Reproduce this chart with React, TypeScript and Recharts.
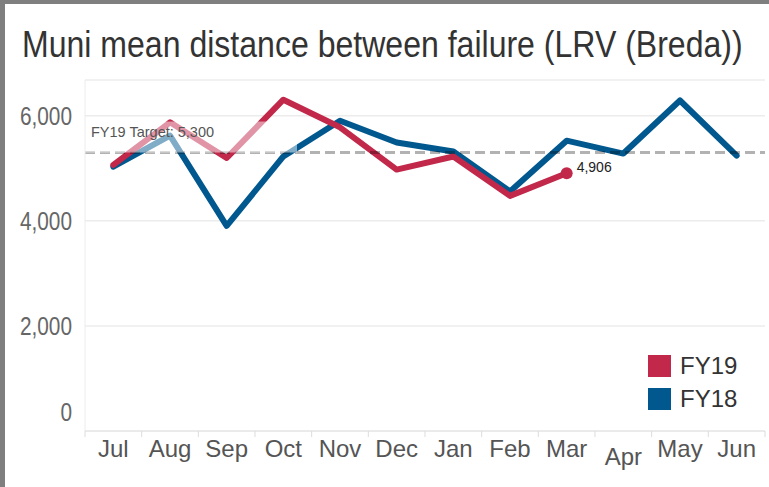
import React from 'react';
import { ComposedChart, Line, XAxis, YAxis, CartesianGrid, ReferenceLine } from 'recharts';

const months = ['Jul', 'Aug', 'Sep', 'Oct', 'Nov', 'Dec', 'Jan', 'Feb', 'Mar', 'Apr', 'May', 'Jun'];
const fy18 = [5030, 5620, 3905, 5225, 5905, 5490, 5320, 4560, 5525, 5280, 6290, 5240];
const fy19 = [5065, 5875, 5195, 6305, 5780, 4975, 5225, 4475, 4906, null, null, null];
const target = 5300;
const yTicks = [0, 2000, 4000, 6000];

const RED = '#c1284a';
const BLUE = '#00588f';
const SANS = '"Liberation Sans", Arial, sans-serif';
const BAND = 56.7;

const data = months.map((m, i) => ({ month: m, FY18: fy18[i], FY19: fy19[i] }));
const lastFy19 = fy19.filter((v) => v != null).length - 1;

function XTick(props: any) {
  const { x, y, payload, index } = props;
  const drop = payload.value === 'Apr' ? 8 : 0;
  return (
    <g>
      <line x1={x - BAND / 2} x2={x - BAND / 2} y1={y} y2={y + 6} stroke="#ddd" strokeWidth={1} />
      {index === months.length - 1 && (
        <line x1={x + BAND / 2} x2={x + BAND / 2} y1={y} y2={y + 6} stroke="#ddd" strokeWidth={1} />
      )}
      <text x={x} y={y + 17 + drop} textAnchor="middle" dominantBaseline="central" fontSize={24} fill="#555" fontFamily={SANS}>
        {payload.value}
      </text>
    </g>
  );
}

function YTick(props: any) {
  const { x, y, payload } = props;
  const shift = payload.value === 0 ? -19 : 0;
  return (
    <text
      transform={`translate(${x - 13},${y + shift}) scale(0.8,1)`}
      textAnchor="end"
      dominantBaseline="central"
      fontSize={26}
      fill="#666"
      fontFamily={SANS}
    >
      {payload.value.toLocaleString('en-US')}
    </text>
  );
}

function TargetLabel(props: any) {
  const { viewBox } = props;
  const x = viewBox.x;
  const y = viewBox.y;
  return (
    <g>
      <rect x={x} y={y - 31} width={212} height={31} fill="#fff" fillOpacity={0.5} />
      <text x={x + 6} y={y - 21} dominantBaseline="central" fontSize={14.5} fill="#555" fontFamily={SANS}>
        FY19 Target: {target.toLocaleString('en-US')}
      </text>
    </g>
  );
}

function EndDot(props: any) {
  const { cx, cy, index, value } = props;
  if (index !== lastFy19) return <g key={`d-${index}`} />;
  return (
    <g key={`d-${index}`}>
      <circle cx={cx} cy={cy} r={6} fill={RED} />
      <text x={cx + 10} y={cy - 6} dominantBaseline="central" fontSize={14} fill="#222" fontFamily={SANS}>
        {Number(value).toLocaleString('en-US')}
      </text>
    </g>
  );
}

export default function App() {
  return (
    <div
      style={{
        position: 'fixed',
        top: 0,
        left: 0,
        width: 769,
        height: 487,
        background: '#fff',
        overflow: 'hidden',
      }}
    >
      <div style={{ position: 'absolute', left: 0, top: 0, width: 5, height: 487, background: '#7f7f7f' }} />
      <div style={{ position: 'absolute', left: 0, top: 0, width: 769, height: 4, background: '#7f7f7f' }} />
      <div
        style={{
          position: 'absolute',
          left: 22,
          top: 24,
          fontSize: 36,
          lineHeight: '42px',
          color: '#333',
          fontFamily: SANS,
          whiteSpace: 'nowrap',
          transform: 'scaleX(0.89)',
          transformOrigin: 'left top',
        }}
      >
        Muni mean distance between failure (LRV (Breda))
      </div>
      <div style={{ position: 'absolute', left: 0, top: 0 }}>
        <ComposedChart width={769} height={487} data={data} margin={{ top: 80, right: 4, bottom: 26, left: 0 }}>
          <CartesianGrid vertical={false} stroke="#ececec" strokeWidth={1.5} />
          <XAxis
            dataKey="month"
            height={30}
            padding={{ left: BAND / 2, right: BAND / 2 }}
            axisLine={{ stroke: '#e4e4e4' }}
            tickLine={false}
            tickSize={0}
            tickMargin={0}
            tick={<XTick />}
            interval={0}
          />
          <YAxis
            width={85}
            domain={[0, 6680]}
            ticks={yTicks}
            axisLine={{ stroke: '#ececec' }}
            tickLine={false}
            tickSize={0}
            tickMargin={0}
            tick={<YTick />}
          />
          <Line
            dataKey="FY18"
            stroke={BLUE}
            strokeWidth={6}
            dot={false}
            activeDot={false}
            isAnimationActive={false}
            strokeLinejoin="round"
            strokeLinecap="round"
          />
          <Line
            dataKey="FY19"
            stroke={RED}
            strokeWidth={6}
            dot={<EndDot />}
            activeDot={false}
            isAnimationActive={false}
            strokeLinejoin="round"
            strokeLinecap="round"
          />
          <ReferenceLine
            y={target}
            stroke="#000"
            strokeOpacity={0.3}
            strokeWidth={3}
            strokeDasharray="10 5"
            label={<TargetLabel />}
          />
        </ComposedChart>
      </div>
      <div style={{ position: 'absolute', left: 648, top: 350, fontFamily: SANS, fontSize: 24, color: '#333' }}>
        {[
          { name: 'FY19', color: RED },
          { name: 'FY18', color: BLUE },
        ].map((s) => (
          <div key={s.name} style={{ display: 'flex', alignItems: 'center', height: 32, marginBottom: 1 }}>
            <div style={{ width: 23, height: 22, background: s.color, marginRight: 9 }} />
            <span>{s.name}</span>
          </div>
        ))}
      </div>
    </div>
  );
}
